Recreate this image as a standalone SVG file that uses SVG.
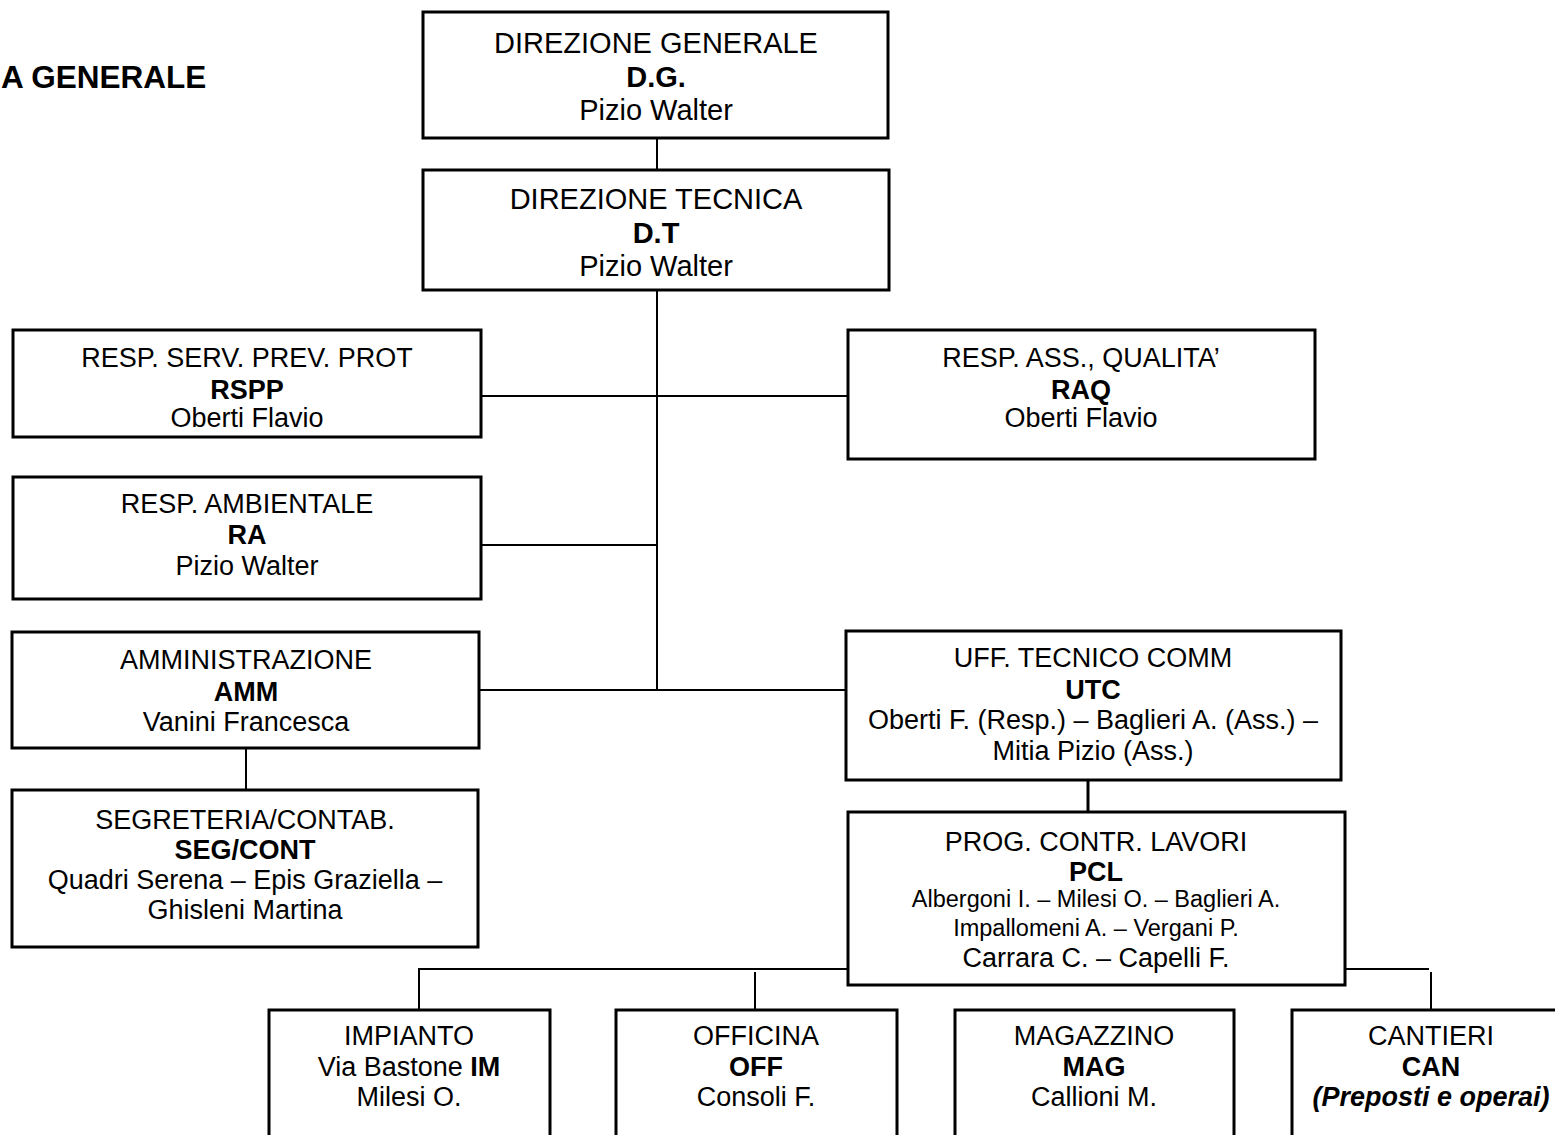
<svg xmlns="http://www.w3.org/2000/svg" width="1555" height="1135" viewBox="0 0 1555 1135">
<style>
.box{fill:#fff;stroke:#000;stroke-width:3}
.ln{stroke:#000;stroke-width:2;fill:none}
.thk{stroke:#000;stroke-width:3;fill:none}
text{font-family:"Liberation Sans",Arial,sans-serif;fill:#000;text-anchor:middle}
.t29{font-size:29px}
.t26{font-size:27px}
.t24{font-size:23.5px}
.b{font-weight:bold}
.i{font-style:italic}
</style>
<rect width="1555" height="1135" fill="#fff"/>
<text x="1" y="88" style="font-size:31.5px;font-weight:bold;text-anchor:start">A GENERALE</text>
<g id="connectors">
<line class="ln" x1="657" y1="138" x2="657" y2="170"/>
<line class="ln" x1="657" y1="290" x2="657" y2="690"/>
<line class="ln" x1="482" y1="396" x2="848" y2="396"/>
<line class="ln" x1="481" y1="545" x2="657" y2="545"/>
<line class="ln" x1="479" y1="690" x2="846" y2="690"/>
<line class="ln" x1="246" y1="748" x2="246" y2="790"/>
<line class="thk" x1="1088" y1="780" x2="1088" y2="812"/>
<polyline class="ln" points="848,969 419,969 419,1010"/>
<line class="ln" x1="755" y1="972" x2="755" y2="1010"/>
<line class="ln" x1="1345" y1="969" x2="1429" y2="969"/>
<line class="ln" x1="1431" y1="972" x2="1431" y2="1010"/>
</g>
<g id="dg">
<rect class="box" x="423" y="12" width="465" height="126"/>
<text class="t29" x="656" y="53">DIREZIONE GENERALE</text>
<text class="t29 b" x="656" y="87">D.G.</text>
<text class="t29" x="656" y="120">Pizio Walter</text>
</g>
<g id="dt">
<rect class="box" x="423" y="170" width="466" height="120"/>
<text class="t29" x="656" y="209">DIREZIONE TECNICA</text>
<text class="t29 b" x="656" y="243">D.T</text>
<text class="t29" x="656" y="276">Pizio Walter</text>
</g>
<g id="rspp">
<rect class="box" x="13" y="330" width="468" height="107"/>
<text class="t26" x="247" y="367">RESP. SERV. PREV. PROT</text>
<text class="t26 b" x="247" y="399">RSPP</text>
<text class="t26" x="247" y="427">Oberti Flavio</text>
</g>
<g id="raq">
<rect class="box" x="848" y="330" width="467" height="129"/>
<text class="t26" x="1081" y="367">RESP. ASS., QUALITA’</text>
<text class="t26 b" x="1081" y="399">RAQ</text>
<text class="t26" x="1081" y="427">Oberti Flavio</text>
</g>
<g id="ra">
<rect class="box" x="13" y="477" width="468" height="122"/>
<text class="t26" x="247" y="513">RESP. AMBIENTALE</text>
<text class="t26 b" x="247" y="544">RA</text>
<text class="t26" x="247" y="575">Pizio Walter</text>
</g>
<g id="amm">
<rect class="box" x="12" y="632" width="467" height="116"/>
<text class="t26" x="246" y="669">AMMINISTRAZIONE</text>
<text class="t26 b" x="246" y="701">AMM</text>
<text class="t26" x="246" y="731">Vanini Francesca</text>
</g>
<g id="utc">
<rect class="box" x="846" y="631" width="495" height="149"/>
<text class="t26" x="1093" y="667">UFF. TECNICO COMM</text>
<text class="t26 b" x="1093" y="699">UTC</text>
<text class="t26" x="1093" y="729">Oberti F. (Resp.) – Baglieri A. (Ass.) –</text>
<text class="t26" x="1093" y="760">Mitia Pizio (Ass.)</text>
</g>
<g id="seg">
<rect class="box" x="12" y="790" width="466" height="157"/>
<text class="t26" x="245" y="829">SEGRETERIA/CONTAB.</text>
<text class="t26 b" x="245" y="859">SEG/CONT</text>
<text class="t26" x="245" y="889">Quadri Serena – Epis Graziella –</text>
<text class="t26" x="245" y="919">Ghisleni Martina</text>
</g>
<g id="pcl">
<rect class="box" x="848" y="812" width="497" height="173"/>
<text class="t26" x="1096" y="851">PROG. CONTR. LAVORI</text>
<text class="t26 b" x="1096" y="881">PCL</text>
<text class="t24" x="1096" y="907">Albergoni I. – Milesi O. – Baglieri A.</text>
<text class="t24" x="1096" y="936">Impallomeni A. – Vergani P.</text>
<text class="t26" x="1096" y="967">Carrara C. – Capelli F.</text>
</g>
<g id="im">
<rect class="box" x="269" y="1010" width="281" height="135"/>
<text class="t26" x="409" y="1045">IMPIANTO</text>
<text class="t26" x="409" y="1076">Via Bastone <tspan class="b">IM</tspan></text>
<text class="t26" x="409" y="1106">Milesi O.</text>
</g>
<g id="off">
<rect class="box" x="616" y="1010" width="281" height="135"/>
<text class="t26" x="756" y="1045">OFFICINA</text>
<text class="t26 b" x="756" y="1076">OFF</text>
<text class="t26" x="756" y="1106">Consoli F.</text>
</g>
<g id="mag">
<rect class="box" x="955" y="1010" width="279" height="135"/>
<text class="t26" x="1094" y="1045">MAGAZZINO</text>
<text class="t26 b" x="1094" y="1076">MAG</text>
<text class="t26" x="1094" y="1106">Callioni M.</text>
</g>
<g id="can">
<rect class="box" x="1292" y="1010" width="280" height="135"/>
<text class="t26" x="1431" y="1045">CANTIERI</text>
<text class="t26 b" x="1431" y="1076">CAN</text>
<text class="t26 b i" x="1431" y="1106">(Preposti e operai)</text>
</g>
</svg>
